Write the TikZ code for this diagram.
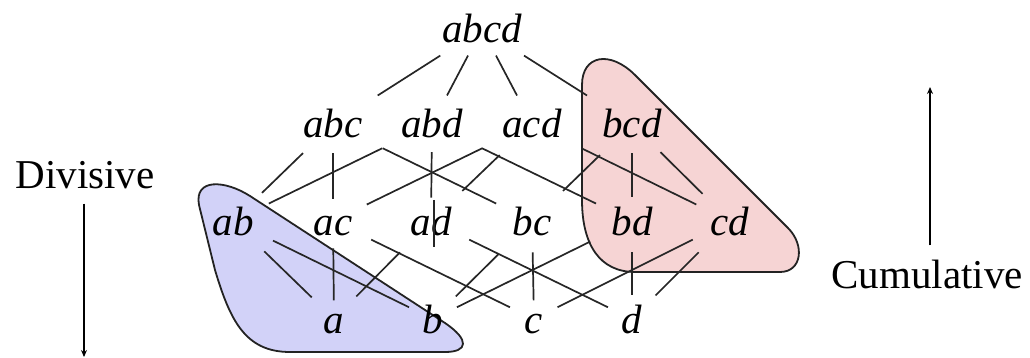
\documentclass[tikz,border=0pt]{standalone}
\usepackage{fontspec}
\setmainfont{Liberation Serif}
\usetikzlibrary{calc,arrows.meta}
\definecolor{blobblue}{RGB}{210,210,248}
\definecolor{blobred}{RGB}{246,212,212}
\definecolor{blobline}{RGB}{35,35,35}
\newcommand\latedge[4]{\draw[ln] ($(#1.center)!#3!(#2.center)$) -- ($(#1.center)!#4!(#2.center)$);}
\begin{document}
\begin{tikzpicture}[x=1pt,y=-1pt,
  lbl/.style={font=\fontsize{41}{48}\selectfont\itshape, anchor=base, inner sep=0pt, text height=28pt, text depth=0pt},
  side/.style={font=\fontsize{41}{48}\selectfont, anchor=base, inner sep=0pt},
  ln/.style={line width=1.7pt, draw=black!85},
  blob/.style={line width=1.8pt, draw=blobline}]
\useasboundingbox (0,0) rectangle (1030,358);
% blobs
\draw[blob, fill=blobred] (582,200) -- (582,85) .. controls (582,55) and (610,50) .. (635,75)
  -- (788,228) .. controls (805,245) and (802,272) .. (780,272)
  -- (635,272) .. controls (600,272) and (582,245) .. (582,200) -- cycle;
\draw[blob, fill=blobblue] (250,196) -- (445,323) .. controls (470,340) and (468,352) .. (445,352)
  -- (290,352) .. controls (245,352) and (230,320) .. (215,270)
  -- (199,205) .. controls (194,178) and (225,180) .. (250,196) -- cycle;
% nodes
\node[lbl] (abcd) at (482,43) {abcd};
\node[lbl] (abc) at (333,138) {abc};
\node[lbl] (abd) at (432,138) {abd};
\node[lbl] (acd) at (532,138) {acd};
\node[lbl] (bcd) at (632,138) {bcd};
\node[lbl] (ab) at (233,235) {ab};
\node[lbl] (ac) at (333,235) {ac};
\node[lbl] (ad) at (431,235) {ad};
\node[lbl] (bc) at (532,235) {bc};
\node[lbl] (bd) at (632,235) {bd};
\node[lbl] (cd) at (730,235) {cd};
\node[lbl] (a) at (334,333) {a};
\node[lbl] (b) at (433,333) {b};
\node[lbl] (c) at (534,333) {c};
\node[lbl] (d) at (632,333) {d};
% edges row 1 -> 2
\latedge{abcd}{abc}{0.28}{0.70}
\latedge{abcd}{abd}{0.28}{0.70}
\latedge{abcd}{acd}{0.28}{0.70}
\latedge{abcd}{bcd}{0.28}{0.70}
% row 2 -> 3
\latedge{abc}{ab}{0.30}{0.71}
\latedge{abc}{ac}{0.30}{0.77}
\latedge{abc}{bc}{0.25}{0.82}
\latedge{abd}{ab}{0.25}{0.82}
\latedge{abd}{ad}{0.29}{0.76}
\latedge{abd}{bd}{0.25}{0.82}
\latedge{acd}{ac}{0.25}{0.83}
\latedge{acd}{ad}{0.32}{0.69}
\latedge{acd}{cd}{0.25}{0.83}
\latedge{bcd}{bc}{0.32}{0.69}
\latedge{bcd}{bd}{0.30}{0.75}
\latedge{bcd}{cd}{0.29}{0.72}
% row 3 -> 4
\latedge{ab}{a}{0.31}{0.78}
\latedge{ab}{b}{0.20}{0.88}
\latedge{ac}{a}{0.28}{0.81}
\latedge{ac}{c}{0.19}{0.88}
\latedge{ad}{a}{0.32}{0.77}
\latedge{ad}{d}{0.19}{0.88}
\latedge{bc}{b}{0.34}{0.77}
\latedge{bc}{c}{0.32}{0.81}
\latedge{bd}{b}{0.21}{0.88}
\latedge{bd}{d}{0.32}{0.76}
\latedge{cd}{c}{0.19}{0.88}
\latedge{cd}{d}{0.32}{0.76}
% stray stroke through ad
\draw[ln] ($(ad.center)+(3,-21)$) -- ($(ad.center)+(3,26)$);
% side labels and arrows
\node[side] (div) at (85,189) {Divisive};
\coordinate (divend) at (84,357);
\draw[line width=1.4pt, -{Stealth[length=7pt,width=6pt]}] ($(div.south)+(-1,14)$) -- (divend);
\node[side] (cum) at (927,288) {Cumulative};
\coordinate (cumend) at (930,87);
\draw[line width=1.4pt, -{Stealth[length=7pt,width=6pt]}] ($(cum.north)+(3,-14)$) -- (cumend);
\end{tikzpicture}
\end{document}
